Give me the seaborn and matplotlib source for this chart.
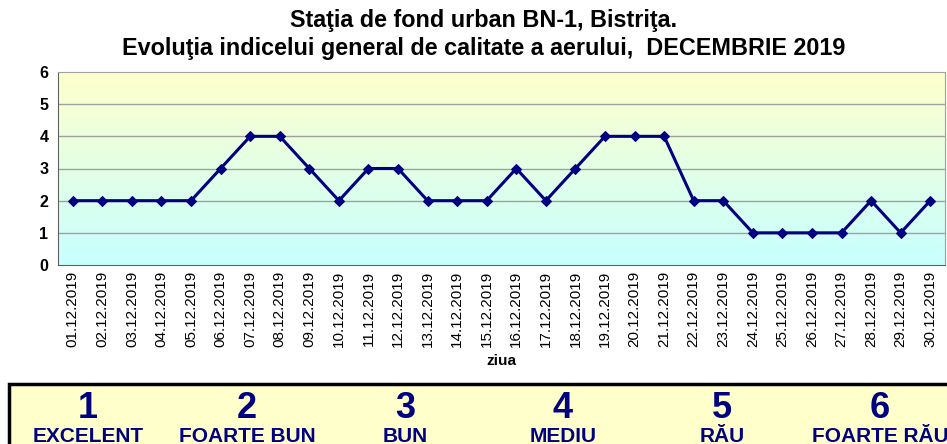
import matplotlib
matplotlib.use("Agg")
import matplotlib.pyplot as plt
import numpy as np
import pandas as pd
import seaborn as sns
from matplotlib.colors import LinearSegmentedColormap
from matplotlib.patches import Rectangle

days = [f"{d:02d}.12.2019" for d in range(1, 31)]
index_values = [2, 2, 2, 2, 2, 3, 4, 4, 3, 2, 3, 3, 2, 2, 2, 3, 2, 3, 4, 4, 4, 2, 2, 1, 1, 1, 1, 2, 1, 2]
legend_levels = ["1", "2", "3", "4", "5", "6"]
legend_names = ["EXCELENT", "FOARTE BUN", "BUN", "MEDIU", "RĂU", "FOARTE RĂU"]

df = pd.DataFrame({"pos": range(len(days)), "zi": days, "indice": index_values})

sns.set_style("white")
plt.rcParams["font.family"] = ["Liberation Sans", "DejaVu Sans"]
plt.rcParams["text.color"] = "black"
plt.rcParams["xtick.color"] = "black"
plt.rcParams["ytick.color"] = "black"
plt.rcParams["axes.labelcolor"] = "black"

fig = plt.figure(figsize=(9.47, 4.44), dpi=100)
ax = fig.add_axes([58 / 947, (444 - 265) / 444, 887 / 947, 193 / 444])

# yellow-to-cyan background of the plot area
cmap = LinearSegmentedColormap.from_list("bg", ["#c8ffff", "#ffffcc"])
grad = np.linspace(0, 1, 256).reshape(-1, 1)
ax.imshow(grad, extent=[-0.5, len(days) - 0.5, 0, 6], origin="lower",
          aspect="auto", cmap=cmap, zorder=0)

for y in range(1, 6):
    ax.axhline(y, color="#a0a0a0", lw=1, zorder=1)

sns.lineplot(data=df, x="pos", y="indice", ax=ax, color="#000080", lw=2.2,
             marker="D", markersize=5.5, markeredgecolor="#000080", zorder=3)

ax.set_xlim(-0.5, len(days) - 0.5)
ax.set_ylim(0, 6)
ax.set_yticks(range(0, 7))
ax.set_yticklabels([str(v) for v in range(0, 7)], fontsize=11.5, fontweight="bold")
ax.set_xticks(range(len(days)))
ax.set_xticklabels(days, rotation=90, fontsize=11)
ax.set_xticks(np.arange(-0.5, len(days)), minor=True)
ax.tick_params(axis="x", which="major", length=0, pad=4)
ax.tick_params(axis="x", which="minor", length=5, color="#606060", direction="out")
ax.tick_params(axis="y", length=5, color="#606060", direction="out", pad=2)
ax.set_xlabel("ziua", fontsize=11, fontweight="bold", labelpad=5)
ax.set_ylabel("")
for side in ["top", "right"]:
    ax.spines[side].set_color("#a0a0a0")
for side in ["left", "bottom"]:
    ax.spines[side].set_color("#606060")

fig.text(484 / 947, 1 - 21 / 444, "Staţia de fond urban BN-1, Bistriţa.",
         ha="center", va="center", fontsize=16.8, fontweight="bold")
fig.text(484 / 947, 1 - 48 / 444, "Evoluţia indicelui general de calitate a aerului,  DECEMBRIE 2019",
         ha="center", va="center", fontsize=16.8, fontweight="bold")

# legend box with the index scale
fig.patches.append(Rectangle((9 / 947, -0.05), 1.0, (444 - 384) / 444 + 0.05,
                             transform=fig.transFigure, facecolor="#ffffcc",
                             edgecolor="black", lw=2.5, zorder=0))
centers = [88, 247, 405, 563, 722, 880]
for cx, lvl, name in zip(centers, legend_levels, legend_names):
    fig.text(cx / 947, 1 - 408 / 444, lvl, ha="center", va="center",
             fontsize=26, fontweight="bold", color="#000080")
    fig.text(cx / 947, 1 - 436 / 444, name, ha="center", va="center",
             fontsize=15, fontweight="bold", color="#000080")

fig.savefig("out.png", dpi=100, facecolor="white")
